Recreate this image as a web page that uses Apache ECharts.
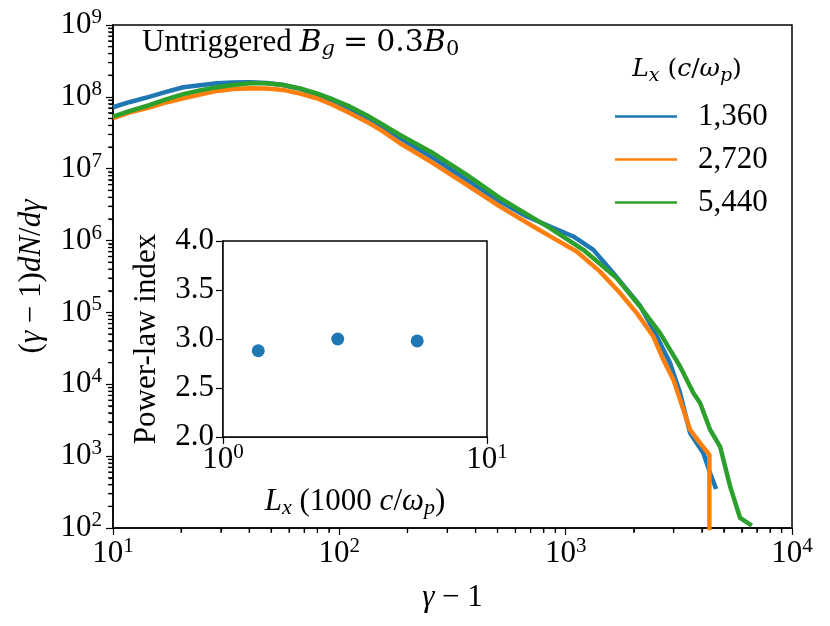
<!DOCTYPE html>
<html>
<head>
<meta charset="utf-8">
<script src="https://cdn.jsdelivr.net/npm/echarts@6.0.0/dist/echarts.min.js"></script>
<style>
html, body { margin: 0; padding: 0; background: #fff; }
#chart { width: 830px; height: 626px; }
</style>
</head>
<body>
<div id="chart"></div>
<script>
// spectra for the three box sizes (gamma - 1, (gamma - 1) dN/dgamma)
var seriesNames = ['1,360', '2,720', '5,440'];
var colors = ['#1f77b4', '#ff7f0e', '#2ca02c'];

var gamma1360 = [10, 11.89, 14.57, 17.15, 20.45, 24.23, 28.73, 33.91, 40.31, 47.91, 56.56, 67.06, 79.45, 93.8, 111.5, 132.6, 156.5, 185.4, 260.3, 365.6, 513.1, 673.2, 853.3, 1081, 1326, 1625, 2132, 2441, 2893, 3203, 3545, 4061, 4347, 4620];
var spec1360 = [7.17e7, 8.49e7, 1.01e8, 1.17e8, 1.36e8, 1.45e8, 1.55e8, 1.59e8, 1.60e8, 1.56e8, 1.46e8, 1.29e8, 1.06e8, 8.49e7, 6.58e7, 4.93e7, 3.66e7, 2.66e7, 1.40e7, 6.98e6, 3.49e6, 2.16e6, 1.57e6, 1.14e6, 7.43e5, 3.52e5, 1.24e5, 5.73e4, 1.97e4, 7.55e3, 2.10e3, 1.10e3, 582, 349];

var gamma2720 = [10, 11.89, 14.57, 17.15, 20.45, 24.23, 28.73, 33.91, 40.31, 47.91, 56.56, 67.06, 79.45, 93.8, 111.5, 132.6, 156.5, 185.4, 260.3, 365.6, 513.1, 720, 882, 1119, 1419, 1739, 2062, 2441, 2702, 2991, 3203, 3545, 3926, 4315, 4315];
var spec2720 = [5.04e7, 6.07e7, 7.17e7, 8.36e7, 9.56e7, 1.08e8, 1.21e8, 1.29e8, 1.32e8, 1.31e8, 1.25e8, 1.11e8, 9.56e7, 7.71e7, 5.92e7, 4.48e7, 3.28e7, 2.26e7, 1.19e7, 5.95e6, 2.97e6, 1.57e6, 1.08e6, 7.03e5, 3.70e5, 1.86e5, 9.78e4, 4.62e4, 2.19e4, 1.16e4, 6.09e3, 2.33e3, 1.52e3, 1.05e3, 1];

var gamma5440 = [10, 11.89, 14.57, 17.15, 20.45, 24.23, 28.73, 33.91, 40.31, 47.91, 56.56, 67.06, 79.45, 93.8, 111.5, 132.6, 156.5, 185.4, 260.3, 365.6, 513.1, 720, 853.3, 1197, 1682, 2132, 2613, 3203, 3667, 3926, 4347, 4812, 5328, 5899, 6644];
var spec5440 = [5.31e7, 6.37e7, 7.71e7, 9.20e7, 1.09e8, 1.23e8, 1.36e8, 1.46e8, 1.55e8, 1.55e8, 1.46e8, 1.31e8, 1.12e8, 9.20e7, 7.30e7, 5.51e7, 4.07e7, 2.95e7, 1.64e7, 8.20e6, 3.89e6, 2.05e6, 1.49e6, 7.43e5, 3.00e5, 1.21e5, 5.15e4, 1.77e4, 7.55e3, 5.48e3, 2.33e3, 1.36e3, 379, 138, 108];

// inset: power-law index vs box size
var insetLength = [1.36, 2.72, 5.44];
var insetIndex = [2.88, 3.00, 2.98];

var serif = '"Liberation Serif", "DejaVu Serif", serif';
var mathSerif = '"DejaVu Serif", "Liberation Serif", serif';
var FS = 31;

var powRich = {
    b: { fontFamily: serif, fontSize: FS, lineHeight: 36, color: '#000' },
    s: { fontFamily: serif, fontSize: 21, lineHeight: 20, verticalAlign: 'top', color: '#000' }
};
var mathRich = {
    n: { fontFamily: serif, fontSize: FS, lineHeight: 34, color: '#000' },
    i: { fontFamily: serif, fontSize: FS, lineHeight: 34, fontStyle: 'italic', color: '#000' },
    sub: { fontFamily: serif, fontSize: 22, lineHeight: 18, fontStyle: 'italic', verticalAlign: 'bottom', color: '#000' },
    subn: { fontFamily: serif, fontSize: 22, lineHeight: 18, verticalAlign: 'bottom', color: '#000' }
};
// wider math glyphs for the annotation and legend title
function wideRich(size, subSize, eqPad) {
    return {
        n: { fontFamily: serif, fontSize: FS, lineHeight: 34, color: '#000' },
        m: { fontFamily: mathSerif, fontSize: size, lineHeight: 34, color: '#000' },
        i: { fontFamily: mathSerif, fontSize: size, lineHeight: 34, fontStyle: 'italic', color: '#000' },
        eq: { fontFamily: mathSerif, fontSize: size, lineHeight: 34, color: '#000', padding: [0, eqPad, 0, eqPad] },
        sub: { fontFamily: mathSerif, fontSize: subSize, lineHeight: 18, fontStyle: 'italic', verticalAlign: 'bottom', color: '#000' },
        subn: { fontFamily: mathSerif, fontSize: subSize, lineHeight: 18, verticalAlign: 'bottom', color: '#000' }
    };
}

function powLabel(v) {
    return '{b|10}{s|' + Math.round(Math.log10(v)) + '}';
}

function pairs(xs, ys) {
    return xs.map(function (x, i) { return [x, ys[i]]; });
}

// minor tick positions 2..9 x 10^n, like matplotlib's log locator
function minorValues(lo, hi) {
    var out = [];
    for (var e = lo; e < hi; e++) {
        for (var m = 2; m <= 9; m++) out.push(m * Math.pow(10, e));
    }
    return out;
}

var blackLine = { color: '#000', width: 1.5 };
var tickStyle = { show: true, inside: false, length: 7, lineStyle: { color: '#000', width: 1.2 } };

// extra axis on the same side that only carries the minor ticks
function minorAxis(lo, hi, position) {
    return {
        type: 'log', logBase: 10, gridIndex: 0, position: position,
        min: Math.pow(10, lo), max: Math.pow(10, hi),
        axisLine: { show: false, onZero: false },
        axisLabel: { show: false },
        splitLine: { show: false },
        axisTick: {
            show: true, inside: false, length: 4,
            customValues: minorValues(lo, hi),
            lineStyle: { color: '#000', width: 1.2 }
        }
    };
}

var myChart = echarts.init(document.getElementById('chart'), null, { renderer: 'canvas' });

var gammas = [gamma1360, gamma2720, gamma5440];
var specs = [spec1360, spec2720, spec5440];
var series = [];
for (var k = 0; k < seriesNames.length; k++) {
    series.push({
        name: seriesNames[k],
        type: 'line',
        xAxisIndex: 0,
        yAxisIndex: 0,
        data: pairs(gammas[k], specs[k]),
        showSymbol: false,
        clip: true,
        color: colors[k],
        lineStyle: { width: 4.5, color: colors[k], join: 'round' },
        z: 3
    });
}
series.push({
    name: 'index',
    type: 'scatter',
    xAxisIndex: 1,
    yAxisIndex: 1,
    data: pairs(insetLength, insetIndex),
    symbolSize: 13,
    itemStyle: { color: '#1f77b4', opacity: 1 },
    z: 6
});

// minor ticks of the main log axes as thin rect symbols on the axis lines
series.push({
    name: 'minorX',
    type: 'scatter',
    xAxisIndex: 0,
    yAxisIndex: 0,
    silent: true,
    clip: false,
    symbol: 'rect',
    symbolSize: [1.2, 5],
    symbolOffset: [0, 2.5],
    itemStyle: { color: '#000', opacity: 1 },
    data: minorValues(1, 4).map(function (v) { return [v, 100]; }),
    z: 4
});
series.push({
    name: 'minorY',
    type: 'scatter',
    xAxisIndex: 0,
    yAxisIndex: 0,
    silent: true,
    clip: false,
    symbol: 'rect',
    symbolSize: [5, 1.2],
    symbolOffset: [-2.5, 0],
    itemStyle: { color: '#000', opacity: 1 },
    data: minorValues(2, 9).map(function (v) { return [10, v]; }),
    z: 4
});

var option = {
    animation: false,
    backgroundColor: '#fff',
    grid: [
        { left: 113, top: 25, width: 679, height: 503, show: true, borderColor: '#000', borderWidth: 1.5 },
        { left: 223, top: 241, width: 264, height: 196, show: true, borderColor: '#000', borderWidth: 1.5, backgroundColor: '#fff', z: 5 }
    ],
    legend: {
        data: seriesNames,
        orient: 'vertical',
        left: 610,
        top: 96,
        icon: 'rect',
        itemWidth: 62,
        itemHeight: 2.5,
        itemGap: 12,
        selectedMode: false,
        textStyle: { fontFamily: serif, fontSize: FS, color: '#000', lineHeight: 31, padding: [0, 0, 0, 16] }
    },
    graphic: [
        {
            type: 'text', x: 142, y: 43, z: 10,
            style: {
                text: '{n|Untriggered }{i|B}{sub|g}{eq|=}{m|0.3}{i|B}{subn|0}',
                rich: wideRich(30, 21, 8), verticalAlign: 'middle', align: 'left'
            }
        },
        {
            type: 'text', x: 687, y: 69, z: 10,
            style: {
                text: '{i|L}{sub|x}{m| (}{i|c}{m|/}{i|ω}{sub|p}{m|)}',
                rich: wideRich(25, 19, 0), verticalAlign: 'middle', align: 'center'
            }
        }
    ],
    xAxis: [
        {
            type: 'log', logBase: 10, gridIndex: 0, position: 'bottom', min: 10, max: 10000, splitNumber: 3,
            name: '{i|γ}{n| − 1}', nameLocation: 'middle', nameGap: 53,
            nameTextStyle: { rich: mathRich },
            axisLine: { show: true, onZero: false, lineStyle: blackLine },
            axisTick: tickStyle,
            splitLine: { show: false },
            axisLabel: { formatter: powLabel, rich: powRich, margin: 8 }
        },
        {
            type: 'log', logBase: 10, gridIndex: 1, min: 1, max: 10, splitNumber: 1,
            name: '{i|L}{sub|x}{n| (1000 }{i|c}{n|/}{i|ω}{sub|p}{n|)}', nameLocation: 'middle', nameGap: 48,
            nameTextStyle: { rich: mathRich },
            axisLine: { show: true, onZero: false, lineStyle: blackLine },
            axisTick: tickStyle,
            splitLine: { show: false },
            axisLabel: { formatter: powLabel, rich: powRich, margin: 5 }
        },
        minorAxis(1, 4, 'bottom')
    ],
    yAxis: [
        {
            type: 'log', logBase: 10, gridIndex: 0, position: 'left', min: 100, max: 1e9, splitNumber: 7,
            name: '{n|(}{i|γ}{n| − 1)}{i|dN}{n|/}{i|dγ}', nameLocation: 'middle', nameGap: 64,
            nameTextStyle: { rich: mathRich },
            axisLine: { show: true, onZero: false, lineStyle: blackLine },
            axisTick: tickStyle,
            splitLine: { show: false },
            axisLabel: { formatter: powLabel, rich: powRich, margin: 11 }
        },
        {
            type: 'value', gridIndex: 1, min: 2, max: 4, interval: 0.5,
            name: 'Power-law index', nameLocation: 'middle', nameGap: 61,
            nameTextStyle: { fontFamily: serif, fontSize: FS, color: '#000' },
            axisLine: { show: true, onZero: false, lineStyle: blackLine },
            axisTick: tickStyle,
            splitLine: { show: false },
            axisLabel: {
                formatter: function (v) { return v.toFixed(1); },
                fontFamily: serif, fontSize: FS, color: '#000', margin: 9
            }
        },
        minorAxis(2, 9, 'left')
    ],
    series: series
};

myChart.setOption(option);
</script>
</body>
</html>
